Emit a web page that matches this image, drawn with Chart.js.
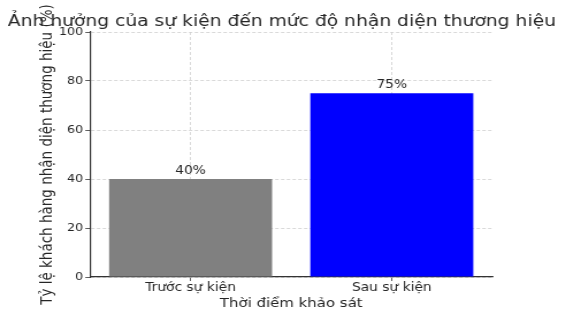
<!DOCTYPE html>
<html>
<head>
<meta charset="utf-8">
<script src="https://cdn.jsdelivr.net/npm/chart.js@4"></script>
<style>
    html, body { margin: 0; padding: 0; background: #fff; overflow: hidden; }
    /* the reference picture is stretched sideways, so the canvas is too */
    #wrap { width: 505px; height: 313px; transform: scaleX(1.1505); transform-origin: 0 0; }
</style>
</head>
<body>
<div id="wrap"><canvas id="chart" width="505" height="313"></canvas></div>
<script>
const categories = ['Trước sự kiện', 'Sau sự kiện'];
const values = [40, 75];
const barColors = ['#808080', '#0000ff'];
const yTicks = [0, 20, 40, 60, 80, 100];
const chartTitle = 'Ảnh hưởng của sự kiện đến mức độ nhận diện thương hiệu';

const FONT = "'DejaVu Sans', sans-serif";
const TEXT = '#262626';

// draws the "40%" / "75%" labels on top of each bar
const barLabels = {
    id: 'barLabels',
    afterDatasetsDraw(chart) {
        const ctx = chart.ctx;
        const meta = chart.getDatasetMeta(0);
        ctx.save();
        ctx.font = '12px ' + FONT;
        ctx.fillStyle = TEXT;
        ctx.textAlign = 'center';
        ctx.textBaseline = 'bottom';
        meta.data.forEach((bar, i) => {
            ctx.fillText(values[i] + '%', bar.x, bar.y - 2);
        });
        ctx.restore();
    }
};

// the built-in title squeezes text to the padded width, so draw it here instead
const wideTitle = {
    id: 'wideTitle',
    afterDraw(chart) {
        const ctx = chart.ctx;
        ctx.save();
        ctx.font = '16.25px ' + FONT;
        ctx.fillStyle = TEXT;
        ctx.textAlign = 'center';
        ctx.textBaseline = 'alphabetic';
        ctx.fillText(chartTitle, 245, 26);
        ctx.restore();
    }
};

new Chart(document.getElementById('chart'), {
    type: 'bar',
    data: {
        labels: categories,
        datasets: [{
            data: values,
            backgroundColor: barColors,
            borderWidth: 0,
            barPercentage: 0.81,
            categoryPercentage: 1
        }]
    },
    options: {
        responsive: false,
        animation: false,
        layout: { padding: { left: 0, right: 77, top: 32, bottom: 0 } },
        plugins: {
            legend: { display: false },
            tooltip: { enabled: false },
            title: { display: false }
        },
        scales: {
            x: {
                grid: {
                    offset: false,
                    color: '#cfcfcf',
                    tickColor: '#333',
                    tickLength: 4,
                    lineWidth: 0.8
                },
                border: { color: '#333', width: 1.2, dash: [3, 2] },
                ticks: { color: TEXT, font: { family: FONT, size: 12 }, padding: 0 },
                title: {
                    display: true,
                    text: 'Thời điểm khảo sát',
                    color: TEXT,
                    font: { family: FONT, size: 13 },
                    padding: { top: 0, bottom: 2 }
                }
            },
            y: {
                min: 0,
                max: 100,
                afterBuildTicks(scale) {
                    scale.ticks = yTicks.map(v => ({ value: v }));
                },
                grid: {
                    color: '#cfcfcf',
                    tickColor: '#333',
                    tickLength: 4,
                    lineWidth: 0.8
                },
                border: { color: '#333', width: 1.2, dash: [3, 2] },
                ticks: { color: TEXT, font: { family: FONT, size: 11 }, padding: 2 },
                title: {
                    display: true,
                    text: 'Tỷ lệ khách hàng nhận diện thương hiệu (%)',
                    color: TEXT,
                    font: { family: FONT, size: 13.5 },
                    padding: { top: 33, bottom: 0 }
                }
            }
        }
    },
    plugins: [barLabels, wideTitle]
});
</script>
</body>
</html>
